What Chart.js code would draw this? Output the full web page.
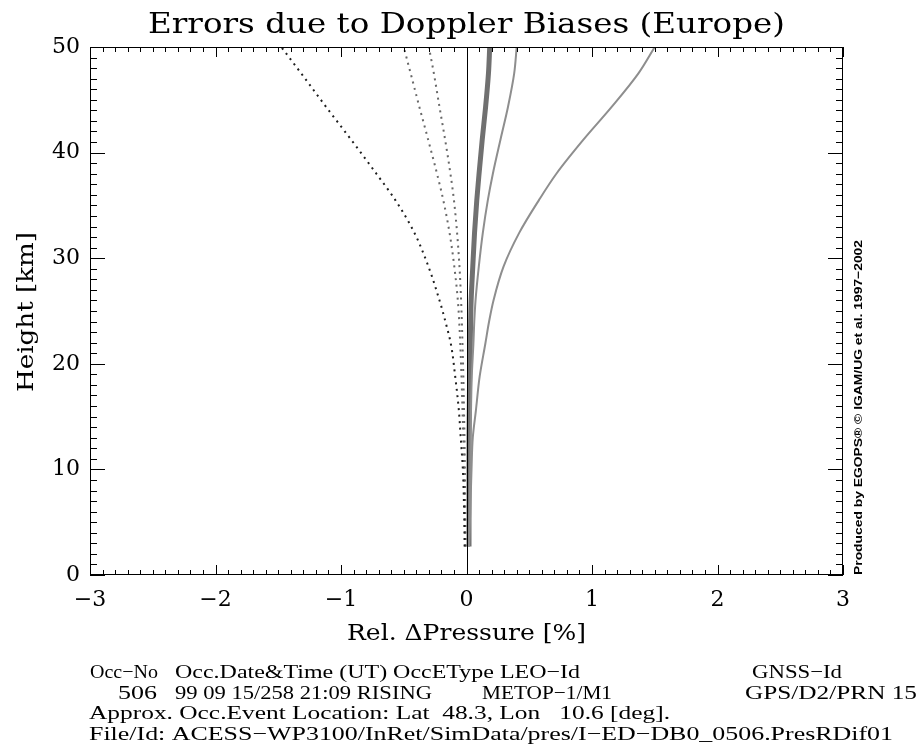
<!DOCTYPE html>
<html>
<head>
<meta charset="utf-8">
<script src="https://cdn.jsdelivr.net/npm/chart.js@4/dist/chart.umd.min.js"></script>
<style>
  body { margin: 0; background: #fff; }
  canvas { display: block; }
</style>
</head>
<body>
<canvas id="graphe" width="920" height="756"></canvas>
<script>
const hauteurs = [2.7, 6, 10, 13, 15.6, 18.8, 21.9, 24, 26, 29.2, 32.4, 35.5, 38, 41.2, 44.3, 47.5, 50]

// relative pressure error [%]
const pointNoir = [-0.015, -0.019, -0.029, -0.046, -0.061, -0.09, -0.125, -0.168, -0.215, -0.303, -0.415, -0.567, -0.718, -0.918, -1.117, -1.317, -1.476]
const pointGris1 = [-0.01, -0.014, -0.02, -0.026, -0.032, -0.04, -0.05, -0.058, -0.069, -0.097, -0.135, -0.185, -0.235, -0.305, -0.375, -0.445, -0.50]
const pointGris2 = [-0.006, -0.009, -0.013, -0.016, -0.02, -0.025, -0.032, -0.037, -0.043, -0.056, -0.075, -0.10, -0.128, -0.17, -0.215, -0.26, -0.30]
const traitEpais = [0.02, 0.02, 0.02, 0.02, 0.022, 0.025, 0.03, 0.033, 0.037, 0.05, 0.064, 0.082, 0.10, 0.125, 0.152, 0.175, 0.185]
const traitFin1 = [0.02, 0.025, 0.03, 0.033, 0.036, 0.042, 0.055, 0.062, 0.072, 0.098, 0.13, 0.17, 0.21, 0.27, 0.33, 0.38, 0.40]
const traitFin2 = [0.02, 0.03, 0.04, 0.05, 0.075, 0.105, 0.15, 0.18, 0.215, 0.295, 0.42, 0.577, 0.716, 0.93, 1.155, 1.37, 1.50]

const ticksX = [-3, -2, -1, 0, 1, 2, 3]
const ticksY = [0, 10, 20, 30, 40, 50]

const titre = 'Errors due to Doppler Biases (Europe)'
const titreX = 'Rel. \u0394Pressure [%]'
const titreY = 'Height [km]'
const credit = 'Produced by EGOPS\u00AE \u00A9 IGAM/UG et al. 1997\u22122002'

// footer: [text, left x, width] per column
const piedLigne1 = [['Occ\u2212No', 90, 68], ['Occ.Date&Time (UT) OccEType LEO\u2212Id', 175, 405], ['GNSS\u2212Id', 752, 90]]
const piedLigne2 = [['506', 118, 39], ['99 09 15/258 21:09 RISING', 175, 257], ['METOP\u22121/M1', 482, 130], ['GPS/D2/PRN 15', 745, 172]]
const piedLigne3 = [['Approx. Occ.Event Location: Lat  48.3, Lon   10.6 [deg].', 89, 581]]
const piedLigne4 = [['File/Id: ACESS\u2212WP3100/InRet/SimData/pres/I\u2212ED\u2212DB0_0506.PresRDif01', 89, 804]]

function profil(valeurs) {
    return valeurs.map((v, i) => ({ x: v, y: hauteurs[i] }))
}

// draw text squeezed/stretched to a given width
function texte(ctx, s, x, y, largeur, angle) {
    const w = ctx.measureText(s).width
    ctx.save()
    ctx.translate(x, y)
    if (angle) ctx.rotate(angle)
    if (largeur) ctx.scale(largeur / w, 1)
    ctx.fillText(s, 0, 0)
    ctx.restore()
}

const cadre = {
    id: 'cadre',
    afterDatasetsDraw(chart) {
        const { ctx, chartArea: a, scales: { x, y } } = chart
        ctx.save()
        ctx.strokeStyle = '#000'
        ctx.lineWidth = 1
        ctx.strokeRect(a.left + 0.5, a.top + 0.5, a.right - a.left - 1, a.bottom - a.top - 1)

        const x0 = Math.round(x.getPixelForValue(0)) + 0.5
        ctx.beginPath()
        ctx.moveTo(x0, a.top)
        ctx.lineTo(x0, a.bottom)

        for (let i = -30; i <= 30; i++) {
            const px = Math.round(x.getPixelForValue(i / 10)) + 0.5
            const l = i % 10 === 0 ? 10 : 5
            ctx.moveTo(px, a.bottom)
            ctx.lineTo(px, a.bottom - l)
            ctx.moveTo(px, a.top)
            ctx.lineTo(px, a.top + l)
        }
        for (let j = 0; j <= 50; j++) {
            const py = Math.round(y.getPixelForValue(j)) + 0.5
            const l = j % 10 === 0 ? 15 : 7
            ctx.moveTo(a.left, py)
            ctx.lineTo(a.left + l, py)
            ctx.moveTo(a.right, py)
            ctx.lineTo(a.right - l, py)
        }
        ctx.stroke()
        ctx.restore()
    }
}

const textes = {
    id: 'textes',
    afterDraw(chart) {
        const ctx = chart.ctx
        ctx.save()
        ctx.fillStyle = '#000'
        ctx.textBaseline = 'alphabetic'
        ctx.textAlign = 'left'

        ctx.font = '28px "DejaVu Serif"'
        texte(ctx, titre, 148, 33, 637)

        ctx.font = '22px "DejaVu Serif"'
        texte(ctx, titreX, 347, 640, 239)
        texte(ctx, titreY, 33, 392, 160, -Math.PI / 2)

        ctx.font = '19px "Liberation Serif"'
        const lignes = [[piedLigne1, 678], [piedLigne2, 699], [piedLigne3, 719], [piedLigne4, 740]]
        lignes.forEach(([ligne, yb]) => {
            ligne.forEach(([s, xs, w]) => texte(ctx, s, xs, yb, w))
        })

        ctx.font = 'bold 11px "Liberation Sans"'
        texte(ctx, credit, 862, 575, 335, -Math.PI / 2)
        ctx.restore()
    }
}

const police = { family: '"DejaVu Serif"', size: 22 }

const graphe = new Chart(document.getElementById('graphe').getContext('2d'), {
    type: 'scatter',
    data: {
        datasets: [
            {
                data: profil(pointNoir),
                borderColor: '#1e1e1e',
                borderWidth: 2,
                borderDash: [2, 4.5]
            },
            {
                data: profil(pointGris1),
                borderColor: '#686868',
                borderWidth: 2,
                borderDash: [2, 4.5]
            },
            {
                data: profil(pointGris2),
                borderColor: '#686868',
                borderWidth: 2,
                borderDash: [2, 4.5]
            },
            {
                data: profil(traitFin2),
                borderColor: '#8e8e8e',
                borderWidth: 2
            },
            {
                data: profil(traitFin1),
                borderColor: '#8e8e8e',
                borderWidth: 2
            },
            {
                data: profil(traitEpais),
                borderColor: '#707070',
                borderWidth: 5
            }
        ]
    },
    options: {
        responsive: false,
        animation: false,
        showLine: true,
        indexAxis: 'y',
        elements: {
            point: { radius: 0 },
            line: { cubicInterpolationMode: 'monotone', fill: false }
        },
        layout: { padding: { top: 47, right: 77, left: 0, bottom: 0 } },
        plugins: {
            legend: { display: false },
            tooltip: { enabled: false }
        },
        scales: {
            x: {
                type: 'linear',
                min: -3,
                max: 3,
                afterBuildTicks: s => { s.ticks = ticksX.map(v => ({ value: v })) },
                ticks: {
                    color: '#000',
                    font: police,
                    padding: 12,
                    maxRotation: 0,
                    callback: v => v < 0 ? '\u2212' + Math.abs(v) : String(v)
                },
                grid: { display: false, drawTicks: false },
                border: { display: false },
                afterFit: s => { s.height = 181 }
            },
            y: {
                type: 'linear',
                min: 0,
                max: 50,
                afterBuildTicks: s => { s.ticks = ticksY.map(v => ({ value: v })) },
                ticks: {
                    color: '#000',
                    font: police,
                    padding: 10
                },
                grid: { display: false, drawTicks: false },
                border: { display: false },
                afterFit: s => { s.width = 90 }
            }
        }
    },
    plugins: [cadre, textes]
})
</script>
</body>
</html>
